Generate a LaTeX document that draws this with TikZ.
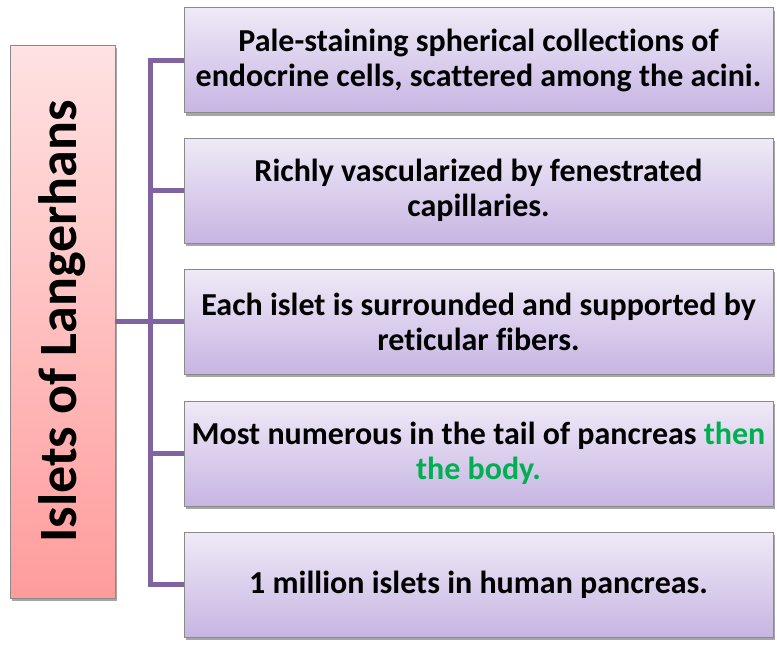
\documentclass[tikz,border=0pt]{standalone}
\usepackage{fontspec}
\setmainfont{Carlito}[Ligatures=NoCommon]
\usetikzlibrary{shadows}
\hyphenpenalty=10000
\exhyphenpenalty=10000
\definecolor{linepurple}{HTML}{8064A2}
\definecolor{boxtop}{HTML}{EFEAF7}
\definecolor{boxbot}{HTML}{C7B5E3}
\definecolor{pinktop}{HTML}{FFE2E2}
\definecolor{pinkbot}{HTML}{FF9C9C}
\definecolor{bordergray}{HTML}{8A8A8A}
\definecolor{offgreen}{HTML}{00B050}
\tikzset{
  infobox/.style={draw=bordergray, line width=0.8pt, shading=axis, top color=boxtop, bottom color=boxbot,
    minimum width=589pt, minimum height=105pt, text width=582pt, align=flush center,
    font=\fontsize{32}{35}\selectfont\bfseries, inner sep=0pt,
    drop shadow={shadow xshift=2pt, shadow yshift=-3pt, opacity=0.35, fill=black}},
  titlebox/.style={draw=bordergray, line width=0.8pt, shading=axis, top color=pinktop, bottom color=pinkbot,
    minimum width=105pt, minimum height=553pt, inner sep=0pt,
    drop shadow={shadow xshift=2pt, shadow yshift=-3pt, opacity=0.35, fill=black}},
  conn/.style={draw=linepurple, line width=5pt}
}
\begin{document}
\begin{tikzpicture}[x=1pt,y=-1pt]
\useasboundingbox (0,0) rectangle (777,646);
\coordinate (tree) at (150,321.5);
\node[titlebox] (title) at (62.5,321.5) {};
\node[rotate=90, font=\fontsize{54}{54}\selectfont\bfseries] (titletext) at (title.center) {Islets of Langerhans};
\node[infobox] (b1) at (478.5,60) {Pale-staining spherical collections of endocrine cells, scattered among the acini.};
\node[infobox] (b2) at (478.5,190.5) {Richly vascularized by fenestrated capillaries.};
\node[infobox] (b3) at (478.5,321.5) {Each islet is surrounded and supported by reticular fibers.};
\node[infobox] (b4) at (478.5,453.5) {Most numerous in the tail of pancreas \textcolor{offgreen}{then the body.}};
\node[infobox] (b5) at (478.5,584.5) {1 million islets in human pancreas.};
\coordinate (top) at (tree |- b1.west);
\coordinate (bot) at (tree |- b5.west);
\draw[conn, line cap=rect] (top) -- (bot);
\draw[conn] (title.east) -- (tree);
\foreach \b in {b1,b2,b3,b4,b5} {
  \draw[conn] (tree |- \b.west) -- (\b.west);
}
\end{tikzpicture}
\end{document}
